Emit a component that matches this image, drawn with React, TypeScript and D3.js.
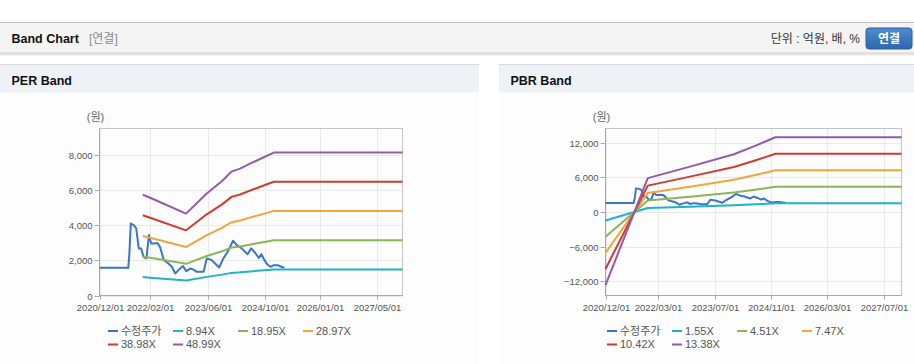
import React from "react";
import * as d3 from "d3";

// ---------- data ----------
const priceDates = [
  "2020-12-01","2021-08-01","2021-08-10","2021-08-22","2021-09-15","2021-10-07","2021-10-28","2021-11-18",
  "2021-12-07","2022-01-01","2022-01-22","2022-02-10","2022-03-10","2022-04-03","2022-04-25","2022-05-28",
  "2022-07-05","2022-08-03","2022-09-01","2022-09-28","2022-11-05","2022-12-03","2023-01-06","2023-02-03",
  "2023-03-01","2023-04-28","2023-05-25","2023-07-06","2023-08-03","2023-09-06","2023-10-12","2023-11-25",
  "2024-01-01","2024-02-03","2024-03-15","2024-05-03","2024-06-03","2024-07-06","2024-08-06","2024-08-28",
  "2024-09-22","2024-10-15","2024-11-12","2024-12-10","2025-01-12","2025-02-12","2025-03-10",
];
const priceValues = [
  1580,1580,2400,4110,4020,3830,2690,2690,
  2210,2120,3450,2970,2970,3000,2780,2020,
  1830,1640,1260,1450,1680,1390,1540,1480,
  1350,1350,2120,2020,1830,1600,2120,2590,
  3130,2880,2690,2360,2690,2440,2150,2360,
  2020,1790,1640,1730,1730,1640,1580,
];

const perBandDates = [
  "2021-12-01","2022-02-01","2022-12-01","2023-05-25","2023-10-01","2023-12-20",
  "2024-03-01","2024-05-28","2024-09-22","2024-12-10","2027-12-01",
];
const per894 = [1050,1019,854,1064,1193,1292,1323,1377,1444,1490,1490];
const per1895 = [2227,2160,1810,2255,2530,2738,2805,2918,3060,3159,3159];
const per2897 = [3404,3303,2767,3447,3867,4186,4288,4461,4679,4829,4829];
const per3898 = [4580,4444,3723,4639,5204,5633,5769,6003,6295,6498,6498];
const per4899 = [5757,5585,4679,5830,6540,7079,7251,7545,7912,8167,8167];

const pbrBandDates = [
  "2020-12-01","2021-12-01","2022-12-01","2023-12-15","2024-06-15","2024-12-08","2027-12-01",
];
const pbr155 = [-1473,682,915,1163,1333,1507,1507];
const pbr451 = [-4285,1984,2661,3383,3879,4384,4384];
const pbr747 = [-7097,3287,4407,5603,6424,7261,7261];
const pbr1042 = [-9899,4585,6148,7815,8961,10128,10128];
const pbr1338 = [-12711,5887,7894,10035,11507,13005,13005];

const perLabels = ["수정주가","8.94X","18.95X","28.97X","38.98X","48.99X"];
const pbrLabels = ["수정주가","1.55X","4.51X","7.47X","10.42X","13.38X"];
const seriesColors = ["#3a76c4","#1fb3c6","#8db457","#f2a53c","#cf3b30","#9659a6"];

const perXTicks = ["2020-12-01","2022-02-01","2023-06-01","2024-10-01","2026-01-01","2027-05-01"];
const pbrXTicks = ["2020-12-01","2022-03-01","2023-07-01","2024-11-01","2026-03-01","2027-07-01"];
const perYTicks = [0,2000,4000,6000,8000];
const pbrYTicks = [-12000,-6000,0,6000,12000];
const xDomain = ["2020-12-01","2027-12-01"];
const perYDomain = [0,9540];
const pbrYDomain = [-14520,14520];

// ---------- helpers ----------
const parse = d3.timeParse("%Y-%m-%d");
const fmtDate = d3.timeFormat("%Y/%m/%d");
const fmtNum = d3.format(",");
const FONT = "'Liberation Sans', Arial, 'Noto Sans CJK KR', sans-serif";

type Pt = { d: Date; v: number };
const zipSeries = (dates: string[], vals: number[]): Pt[] =>
  dates.map((s, i) => ({ d: parse(s) as Date, v: vals[i] }));

function BandPanel(props: {
  px: number; pw: number; title: string;
  plotL: number; plotR: number;
  yDomain: number[]; yTicks: number[]; xTicks: string[];
  bandDates: string[]; bands: number[][]; labels: string[];
}) {
  const { px, pw, title, plotL, plotR, yDomain, yTicks, xTicks, bandDates, bands, labels } = props;
  const top = 128.5, bottom = 295.5;
  const x = d3.scaleTime().domain(xDomain.map((s) => parse(s) as Date)).range([plotL, plotR]);
  const y = d3.scaleLinear().domain(yDomain).range([bottom, top]);
  const line = d3.line<Pt>().x((p) => x(p.d)).y((p) => y(p.v));
  const series: Pt[][] = [zipSeries(priceDates, priceValues), ...bands.map((b) => zipSeries(bandDates, b))];
  return (
    <g>
      <rect x={px} y={64} width={pw} height={300} fill="#fdfdfd" />
      <rect x={px} y={64} width={pw} height={1} fill="#d9d9d9" />
      <rect x={px} y={65} width={pw} height={27.5} fill="#eef2f7" />
      <text x={px + 11.5} y={84.5} fontSize={12.5} fontWeight="bold" fill="#111" fontFamily={FONT}>{title}</text>
      <text x={plotL - 4} y={121} fontSize={11} fill="#666" textAnchor="middle" fontFamily={FONT}>(원)</text>
      {/* grid */}
      {yTicks.map((t) => (
        <line key={"gy" + t} x1={plotL} x2={plotR} y1={Math.round(y(t)) + 0.5} y2={Math.round(y(t)) + 0.5} stroke="#e9e9e9" />
      ))}
      {xTicks.map((t) => {
        const xx = Math.round(x(parse(t) as Date)) + 0.5;
        return <line key={"gx" + t} x1={xx} x2={xx} y1={top} y2={bottom} stroke="#e9e9e9" />;
      })}
      {/* frame */}
      <rect x={plotL} y={top} width={plotR - plotL} height={bottom - top} fill="none" stroke="#c4c4c4" />
      <line x1={plotL} x2={plotL} y1={top} y2={bottom} stroke="#a8a8a8" />
      <line x1={plotL} x2={plotR} y1={bottom} y2={bottom} stroke="#a8a8a8" />
      {/* y ticks */}
      {yTicks.map((t) => {
        const yy = Math.round(y(t)) + 0.5;
        return (
          <g key={"ty" + t}>
            <line x1={plotL - 5} x2={plotL} y1={yy} y2={yy} stroke="#a8a8a8" />
            <text x={plotL - 7} y={yy} dy="0.35em" fontSize={9.5} fill="#555" textAnchor="end" fontFamily={FONT}>{fmtNum(t)}</text>
          </g>
        );
      })}
      {/* x ticks */}
      {xTicks.map((t) => {
        const xx = Math.round(x(parse(t) as Date)) + 0.5;
        return (
          <g key={"tx" + t}>
            <line x1={xx} x2={xx} y1={bottom} y2={bottom + 4} stroke="#a8a8a8" />
            <text x={xx} y={310.5} fontSize={9.5} fill="#555" textAnchor="middle" fontFamily={FONT}>{fmtDate(parse(t) as Date)}</text>
          </g>
        );
      })}
      {/* series */}
      {series.map((s, i) => (
        <path key={"s" + i} d={line(s) || ""} fill="none" stroke={seriesColors[i]} strokeWidth={2} strokeLinejoin="round" />
      ))}
      {/* legend */}
      {labels.map((lab, i) => {
        const lx = px + 108 + (i % 4) * 65;
        const ly = 331 + Math.floor(i / 4) * 13.5;
        return (
          <g key={"lg" + i}>
            <line x1={lx} x2={lx + 10} y1={ly} y2={ly} stroke={seriesColors[i]} strokeWidth={2} />
            <text x={lx + 13} y={ly} dy="0.35em" fontSize={11} fill="#555" fontFamily={FONT}>{lab}</text>
          </g>
        );
      })}
    </g>
  );
}

export default function App() {
  return (
    <svg width={914} height={364} style={{ position: "absolute", left: 0, top: 0, background: "#fff" }}>
      <defs>
        <linearGradient id="shadow" x1="0" y1="0" x2="0" y2="1">
          <stop offset="0" stopColor="#cfcfcf" />
          <stop offset="1" stopColor="#ffffff" />
        </linearGradient>
        <linearGradient id="btn" x1="0" y1="0" x2="0" y2="1">
          <stop offset="0" stopColor="#4f8bcf" />
          <stop offset="1" stopColor="#2d67ad" />
        </linearGradient>
      </defs>
      {/* top bar */}
      <rect x={0} y={22} width={914} height={1} fill="#c2c2c2" />
      <rect x={0} y={23} width={914} height={29.5} fill="#f4f4f4" />
      <rect x={0} y={52.5} width={914} height={4} fill="url(#shadow)" />
      <text x={11.5} y={42.5} fontSize={12.5} fontWeight="bold" fill="#111" fontFamily={FONT}>Band Chart</text>
      <text x={89} y={42.5} fontSize={12} fill="#8a8a8a" fontFamily={FONT}>[연결]</text>
      <text x={860} y={42.5} fontSize={12} fill="#333" textAnchor="end" fontFamily={FONT}>단위 : 억원, 배, %</text>
      <rect x={866} y={28} width={46} height={21} rx={3} fill="url(#btn)" stroke="#2a5f9f" />
      <text x={889} y={42.5} fontSize={12} fontWeight="bold" fill="#fff" textAnchor="middle" fontFamily={FONT}>연결</text>

      <BandPanel px={0} pw={479} title="PER Band" plotL={99.5} plotR={402.5}
        yDomain={perYDomain} yTicks={perYTicks} xTicks={perXTicks}
        bandDates={perBandDates} bands={[per894, per1895, per2897, per3898, per4899]} labels={perLabels} />
      <BandPanel px={499} pw={415} title="PBR Band" plotL={605.5} plotR={901.5}
        yDomain={pbrYDomain} yTicks={pbrYTicks} xTicks={pbrXTicks}
        bandDates={pbrBandDates} bands={[pbr155, pbr451, pbr747, pbr1042, pbr1338]} labels={pbrLabels} />
    </svg>
  );
}
